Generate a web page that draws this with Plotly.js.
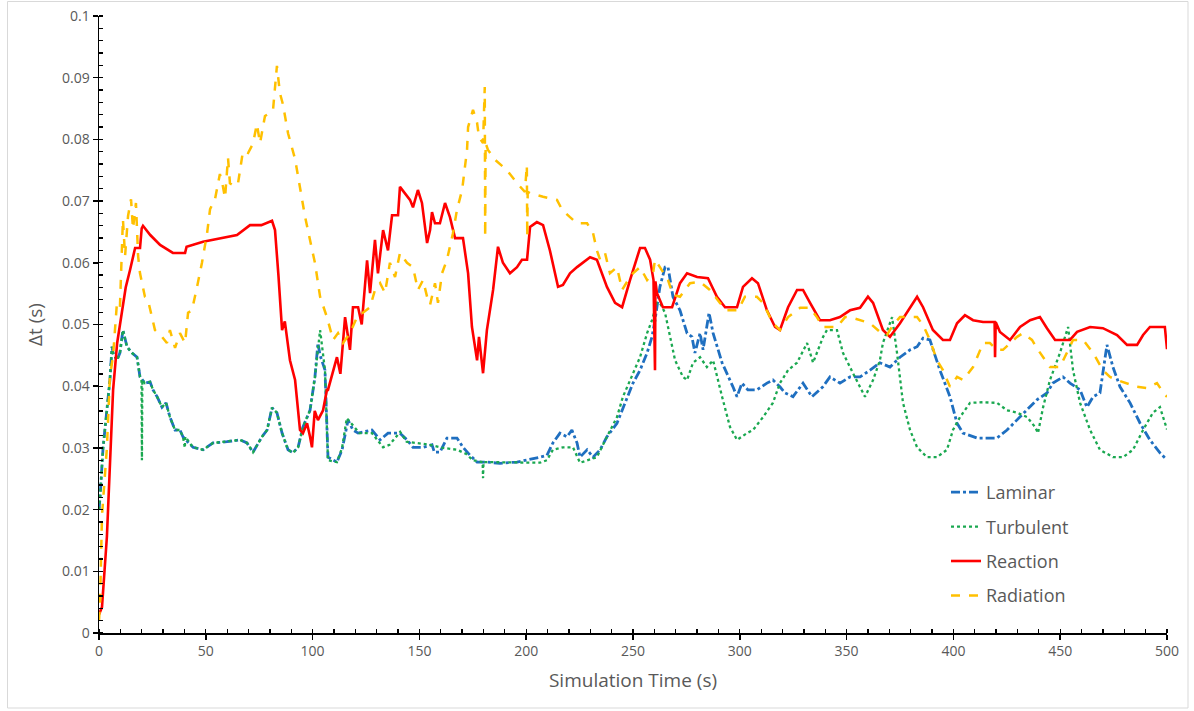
<!DOCTYPE html>
<html>
<head>
<meta charset="utf-8">
<script src="https://cdn.plot.ly/plotly-3.0.1.min.js"></script>
<style>html,body{margin:0;padding:0;background:#fff;}#chart{width:1194px;height:711px;}</style>
</head>
<body>
<div id="chart"></div>
<script>
// ---------- DATA ----------
var seriesNames = ["Laminar", "Turbulent", "Reaction", "Radiation"];

var laminarT = [0,0.5,1.9,5.1,6.1,6.6,8.4,9.8,11.2,13.1,15.4,17.8,19.2,21.5,23.9,25.3,27.2,29.5,31.4,33.2,35.6,37.9,39.3,44,48.7,53.4,59.9,66,69.3,72.1,76.3,78.7,81,83.3,85.7,88.5,90.8,93.2,95.5,98.8,101.1,102.5,103.5,105.8,107.2,111.4,113.8,116.6,118.9,121.3,127.8,131.6,135.3,140.9,144.2,147,151.7,155.9,157,159.6,162.9,167.6,170.4,173.7,177,181.6,187.7,195.7,206.5,209.7,212.5,215.8,219.1,221.4,223.8,225.2,228.5,231.3,234.6,237.8,242.5,246.3,250,253.3,256.6,258.9,260.3,262.6,265,266.4,268.7,272,275.3,277.6,279,281.4,282.8,285.6,287.5,291.7,294,296.8,298.7,301,303.8,308,312.7,315.5,318.8,321.2,324.9,329.6,333.8,338.9,342.2,346.9,351.6,356.3,361,365.6,370.3,375,379.7,383,385.8,389,393.7,398.4,401.7,404.5,411.1,420.4,425.1,429.8,434.5,439.1,443.8,446.6,451.3,454.6,459.3,462.5,465.4,468.6,471.9,474.7,478,482.7,487.4,492,496.7,499,500];
var laminarY = [0.02,0.022,0.03,0.041,0.0464,0.0454,0.0442,0.0454,0.0491,0.0464,0.0454,0.0447,0.0415,0.0405,0.0407,0.0394,0.0383,0.0366,0.0373,0.035,0.0329,0.0329,0.0318,0.0301,0.0297,0.0308,0.031,0.0313,0.0308,0.0293,0.0318,0.0329,0.0365,0.0357,0.0324,0.0297,0.0292,0.0301,0.0334,0.0361,0.0415,0.047,0.045,0.0426,0.0285,0.0277,0.0297,0.0345,0.0329,0.0324,0.0329,0.0313,0.0324,0.0324,0.0313,0.0301,0.0301,0.0305,0.0293,0.0293,0.0316,0.0316,0.0301,0.0288,0.0277,0.0277,0.0275,0.0277,0.0285,0.0288,0.0308,0.0324,0.0318,0.0329,0.0308,0.0285,0.0297,0.0285,0.0297,0.0318,0.034,0.0373,0.0405,0.0426,0.0454,0.048,0.0507,0.0561,0.0593,0.0593,0.0545,0.0523,0.0486,0.048,0.0454,0.0486,0.0459,0.0519,0.0486,0.0438,0.0421,0.0399,0.0383,0.0405,0.0394,0.0394,0.0405,0.041,0.0399,0.0389,0.0383,0.0405,0.0383,0.0399,0.0415,0.0405,0.0415,0.0415,0.0426,0.0438,0.0431,0.0447,0.0459,0.0464,0.0478,0.0475,0.0426,0.0383,0.034,0.0324,0.0316,0.0316,0.0329,0.0345,0.0361,0.0378,0.0389,0.0405,0.0415,0.0405,0.0394,0.0366,0.0383,0.0389,0.0467,0.0431,0.0399,0.0373,0.034,0.0313,0.0292,0.0284,0.0284];

var turbulentT = [0,0.5,1.9,5.1,6.1,6.6,8.4,9.8,11.2,13.1,15.4,17.8,19.2,19.9,20.1,20.3,21.5,23.9,25.3,27.2,29.5,31.4,33.2,35.6,37.9,39.3,40.2,40.4,44,48.7,53.4,59.9,66,69.3,72.1,76.3,78.7,81,83.3,85.7,88.5,90.8,93.2,95.5,98.8,101.1,103.5,105.8,107.2,111.4,113.8,116,118,122,127.8,133,136,141,144,149,155,161,167.6,172,175,179.6,179.8,180,187.7,195.7,206.5,209.7,212.5,217.2,221.9,225.2,228.5,233.1,237.8,242.5,245.3,250,253.3,256.6,258.9,261.2,262.6,265,267.3,269.7,273.4,275.3,278.1,281.4,284.6,287.5,291.7,295.4,298.7,303.4,306.2,310.9,315.5,318.8,322.6,326.8,331.5,334.3,339,340.8,345.5,348.3,353,358.6,362.4,365.6,367,371.3,373.6,376.4,379.7,383,387.6,392.3,397,399.8,403.1,407.8,413.9,420.4,425.1,429.8,434.5,438.2,439.6,442,445.2,449.9,453.7,456,459.3,464,468.6,474.7,479.4,484.1,488.8,493.4,496.7,499,500];
var turbulentY = [0.02,0.022,0.03,0.041,0.0464,0.0454,0.0442,0.0454,0.0491,0.0464,0.0454,0.0447,0.0415,0.041,0.028,0.041,0.0405,0.0407,0.0394,0.0383,0.0366,0.0373,0.035,0.0329,0.0329,0.0318,0.03,0.0318,0.0301,0.0297,0.0308,0.031,0.0313,0.0308,0.0293,0.0318,0.0329,0.0365,0.0357,0.0324,0.0297,0.0292,0.0301,0.0334,0.0361,0.0415,0.0491,0.0426,0.028,0.0277,0.03,0.0348,0.034,0.0324,0.0324,0.0301,0.0305,0.0326,0.031,0.0308,0.0305,0.03,0.0297,0.029,0.028,0.0277,0.0251,0.0277,0.0277,0.0277,0.0276,0.028,0.0297,0.0301,0.0301,0.0276,0.028,0.0285,0.0318,0.035,0.0383,0.0421,0.0447,0.0486,0.0507,0.0535,0.0535,0.0519,0.048,0.0442,0.0415,0.041,0.0438,0.0447,0.0431,0.0442,0.0383,0.0334,0.0313,0.0324,0.0329,0.035,0.0373,0.0405,0.0426,0.0438,0.047,0.0438,0.048,0.0491,0.0491,0.0454,0.0421,0.0383,0.041,0.0442,0.047,0.0512,0.0454,0.0373,0.0329,0.0301,0.0285,0.0285,0.0297,0.0329,0.035,0.0373,0.0374,0.0373,0.0361,0.0357,0.035,0.0334,0.0324,0.0366,0.041,0.0454,0.0496,0.0426,0.0373,0.0329,0.0297,0.0285,0.0285,0.0297,0.0329,0.0357,0.0366,0.034,0.033];

var reactionT = [0,1.4,3.7,5.1,6.6,8.5,10.8,12.5,14.5,16.9,19.2,20,20.6,24,28.6,34.6,40.3,41,48.7,58,64.6,70.7,76,81,82.4,84,85.7,87,88,89.4,91.8,93.2,94.1,95.5,97.4,98.8,99.7,101,102.5,104.9,106.7,107.2,111.4,113,115.2,117.5,118.9,121.3,123,125.5,126.9,129.2,130.6,133,135.3,137.2,140,140.9,143.3,145.6,147,149.3,151.2,153.6,155,155.9,157.3,159.6,162,164.3,166.7,170.4,172.8,174.6,177,177.9,179.8,181.6,184.5,186.8,189.1,192.4,195.7,198,200.4,201.8,205,207.9,211.1,214.9,217.2,220.5,223.8,229.9,233.1,237.8,241.6,244.9,248.6,253.3,255.6,258,259.6,260.3,260.5,261.2,264,268.3,272,275.3,280,285.1,289.3,293.1,298.7,301.5,305.7,308.5,312.7,316.5,318.8,322.6,326.8,329.6,332.9,337.5,342.2,346.9,351.6,356.3,360,362.4,367,370.3,375,379.7,383,385.8,390.4,395.1,398.4,401.7,405.4,409.2,413.9,419.3,419.5,419.8,421.8,426.5,431.2,435.9,440.5,443.8,447.6,454.6,457.9,464,470,476.6,481.3,486,488.8,492,499,500];
var reactionY = [0.003,0.0042,0.0156,0.0276,0.0394,0.047,0.0523,0.056,0.0588,0.0624,0.0624,0.0656,0.066,0.0645,0.0629,0.0616,0.0616,0.0626,0.0634,0.064,0.0645,0.0661,0.0661,0.0668,0.0653,0.058,0.0491,0.0505,0.048,0.0442,0.041,0.0361,0.0329,0.0324,0.034,0.0318,0.0301,0.036,0.0345,0.0361,0.0394,0.0394,0.0447,0.042,0.0512,0.0459,0.0528,0.0528,0.05,0.0604,0.0551,0.0637,0.0583,0.0653,0.062,0.0677,0.0677,0.0723,0.0713,0.0702,0.069,0.0718,0.0697,0.0632,0.0653,0.0682,0.0664,0.0664,0.0697,0.0674,0.064,0.064,0.0583,0.0496,0.0442,0.048,0.0421,0.0491,0.0556,0.0626,0.06,0.0583,0.0593,0.0605,0.0605,0.0658,0.0666,0.0661,0.062,0.0561,0.0564,0.0583,0.0593,0.0609,0.0605,0.0561,0.0535,0.0528,0.0572,0.0624,0.0624,0.0605,0.0572,0.0426,0.057,0.0551,0.0528,0.0528,0.0567,0.0583,0.0577,0.0575,0.0545,0.0528,0.0528,0.0561,0.0575,0.0567,0.0523,0.0496,0.0491,0.0528,0.0556,0.0556,0.0535,0.0507,0.0507,0.0512,0.0523,0.0527,0.0545,0.0535,0.0491,0.048,0.0502,0.0528,0.0545,0.0528,0.0491,0.0475,0.0475,0.0502,0.0515,0.0507,0.0504,0.0504,0.0447,0.0504,0.0488,0.0475,0.0496,0.0507,0.0512,0.0494,0.0475,0.0475,0.0488,0.0496,0.0494,0.0483,0.0467,0.0467,0.0483,0.0496,0.0496,0.046];

var radiationT = [0,0.5,1.4,3.7,5.1,6.6,8.4,9.8,11.2,12.2,13.6,15,15.9,17.3,18.3,19.2,21.5,22.9,24.8,26.2,29.5,31.8,33.2,35.6,37.9,40.3,41.7,43.5,45.9,48.2,50.6,52,54.3,56.6,58,59,60.4,61.3,63.7,65.1,67.4,69.8,72.1,73.9,75.4,77.7,80.1,81.5,83.3,84.7,86.1,88.5,91.8,94.1,96.4,99.7,101.1,103.5,106.7,109.6,111.9,114.2,117.5,120.8,123.6,126.9,129.2,131.6,133.9,136.2,138.6,140.9,144.2,147,149.3,151.7,153.6,155,157.3,158.7,160.6,162.9,165.7,167.6,170,172.3,172.8,175.1,177,177.9,179.8,180.6,180.8,181,182.1,185.4,191,195.7,199.4,200.3,200.5,200.7,201.8,207.9,214.4,216.8,220.5,223.8,228.5,231.3,233.1,234.6,236.9,239.2,242.5,244.9,247.7,250,253.3,256.6,259.4,260.3,262.6,266.4,268.7,272,276.7,281.4,286,290.7,294,299.2,302.4,308,310.9,315.5,318.8,322.6,328.2,332.9,336.1,338.9,345.5,349.3,351.6,356.3,361,365.6,368.9,371.7,375,383,385.8,389,392.3,395.1,398.4,401.7,404.5,409.2,413.9,417.1,420.4,423.2,426.5,429.8,432.6,436.8,439.6,442,445.2,449.9,453.2,456,460.7,465.4,470,473.3,476.6,481.3,486,490.6,495.3,499,500];
var radiationY = [0.002,0.005,0.019,0.03,0.0415,0.045,0.0535,0.0528,0.0671,0.0611,0.0676,0.0703,0.0655,0.0697,0.0611,0.0583,0.0545,0.054,0.0512,0.0491,0.048,0.047,0.0491,0.0462,0.0486,0.047,0.0519,0.0523,0.0561,0.06,0.0648,0.0687,0.0703,0.0744,0.0724,0.0705,0.077,0.0729,0.0724,0.0729,0.0781,0.0778,0.0793,0.0825,0.0794,0.0838,0.0843,0.0849,0.0919,0.0875,0.0857,0.081,0.0768,0.072,0.0676,0.0622,0.06,0.0545,0.0512,0.0475,0.0486,0.047,0.0486,0.0512,0.0519,0.0528,0.0556,0.0567,0.0551,0.06,0.0577,0.0616,0.06,0.0593,0.0556,0.0572,0.0545,0.0532,0.0567,0.0535,0.0583,0.0605,0.0648,0.0686,0.0718,0.0783,0.082,0.0848,0.0827,0.0804,0.0794,0.0885,0.0642,0.0794,0.0783,0.0767,0.075,0.0729,0.0715,0.0758,0.0642,0.0715,0.0713,0.0707,0.0702,0.0686,0.0674,0.0664,0.0664,0.0648,0.062,0.0605,0.0616,0.0583,0.0593,0.0556,0.0572,0.0583,0.0593,0.0572,0.0583,0.0605,0.0593,0.0572,0.0548,0.0545,0.0567,0.0569,0.0556,0.0535,0.0523,0.0523,0.0545,0.0545,0.0535,0.0502,0.0491,0.0512,0.0527,0.0527,0.0512,0.0496,0.0496,0.0512,0.0512,0.0507,0.0502,0.0488,0.0483,0.0499,0.0512,0.0512,0.0499,0.0475,0.0442,0.0426,0.0399,0.0415,0.041,0.0431,0.047,0.047,0.0459,0.0459,0.047,0.048,0.0486,0.0475,0.0459,0.0447,0.0431,0.0431,0.0454,0.0475,0.0475,0.0454,0.0426,0.0415,0.041,0.0405,0.0399,0.0397,0.0405,0.0386,0.0383];

var xTickVals = [0,50,100,150,200,250,300,350,400,450,500];
var xTickText = ["0","50","100","150","200","250","300","350","400","450","500"];
var yTickVals = [0,0.01,0.02,0.03,0.04,0.05,0.06,0.07,0.08,0.09,0.1];
var yTickText = ["0","0.01","0.02","0.03","0.04","0.05","0.06","0.07","0.08","0.09","0.1"];

var xTitle = "Simulation Time (s)";
var yTitle = "\u0394t (s)";

// ---------- CHART ----------
var FONT = "'Open Sans', 'Noto Sans', sans-serif";
var GREY = "#595959";

var styles = [
  {color: "#1F6FC0", dash: "dashdot", width: 2.8},
  {color: "#1AA850", dash: "dot", width: 2.3},
  {color: "#FF0000", dash: "solid", width: 2.6},
  {color: "#FFC000", dash: "dash", width: 2.5}
];
var xs = [laminarT, turbulentT, reactionT, radiationT];
var ys = [laminarY, turbulentY, reactionY, radiationY];

var traces = seriesNames.map(function (name, i) {
  return {
    type: "scatter", mode: "lines", name: name,
    x: xs[i], y: ys[i],
    legendgroup: "g" + i,
    line: {color: styles[i].color, dash: styles[i].dash, width: styles[i].width}
  };
});

var pxX = function (p) { return (p - 99) / 1068; };
var pxY = function (p) { return (633 - p) / 617; };

var layout = {
  width: 1194, height: 711,
  margin: {l: 99, r: 27, t: 16, b: 78},
  paper_bgcolor: "#ffffff", plot_bgcolor: "#ffffff",
  font: {family: FONT, color: GREY, size: 14},
  showlegend: true,
  legend: {
    x: pxX(946), y: pxY(474), xanchor: "left", yanchor: "top",
    traceorder: "grouped", tracegroupgap: 8,
    font: {family: FONT, size: 18, color: GREY},
    bgcolor: "rgba(255,255,255,0)", borderwidth: 0
  },
  xaxis: {
    range: [0, 500], tickvals: xTickVals, ticktext: xTickText,
    showgrid: false, zeroline: false,
    showline: true, linecolor: "#000", linewidth: 1.5,
    ticks: "outside", ticklen: 5, tickwidth: 1.5, tickcolor: "#000",
    minor: {dtick: 10, ticks: "inside", ticklen: 4, tickwidth: 1.3, tickcolor: "#000", showgrid: false},
    tickfont: {family: FONT, size: 14, color: GREY},
    title: {text: xTitle, font: {family: FONT, size: 19, color: GREY}, standoff: 14}
  },
  yaxis: {
    range: [0, 0.1], tickvals: yTickVals, ticktext: yTickText,
    showgrid: false, zeroline: false,
    showline: true, linecolor: "#000", linewidth: 1.5,
    ticks: "outside", ticklen: 5, tickwidth: 1.5, tickcolor: "#000",
    minor: {dtick: 0.002, ticks: "inside", ticklen: 4, tickwidth: 1.3, tickcolor: "#000", showgrid: false},
    tickfont: {family: FONT, size: 14, color: GREY},
    title: {text: yTitle, font: {family: FONT, size: 19, color: GREY}, standoff: 14}
  },
  xaxis2: {
    overlaying: "x", anchor: "y", range: [0, 500], tickvals: xTickVals,
    showticklabels: false, showgrid: false, zeroline: false, showline: false,
    ticks: "inside", ticklen: 5, tickwidth: 1.5, tickcolor: "#000", side: "bottom"
  },
  yaxis2: {
    overlaying: "y", anchor: "x", range: [0, 0.1], tickvals: yTickVals,
    showticklabels: false, showgrid: false, zeroline: false, showline: false,
    ticks: "inside", ticklen: 5, tickwidth: 1.5, tickcolor: "#000", side: "left"
  },
  shapes: [{
    type: "rect", xref: "paper", yref: "paper",
    x0: pxX(7.5), x1: pxX(1188), y0: pxY(708), y1: pxY(1.5),
    line: {color: "#D9D9D9", width: 1}, fillcolor: "rgba(0,0,0,0)", layer: "below"
  }]
};

Plotly.newPlot("chart", traces, layout, {displayModeBar: false, staticPlot: true});
</script>
</body>
</html>
